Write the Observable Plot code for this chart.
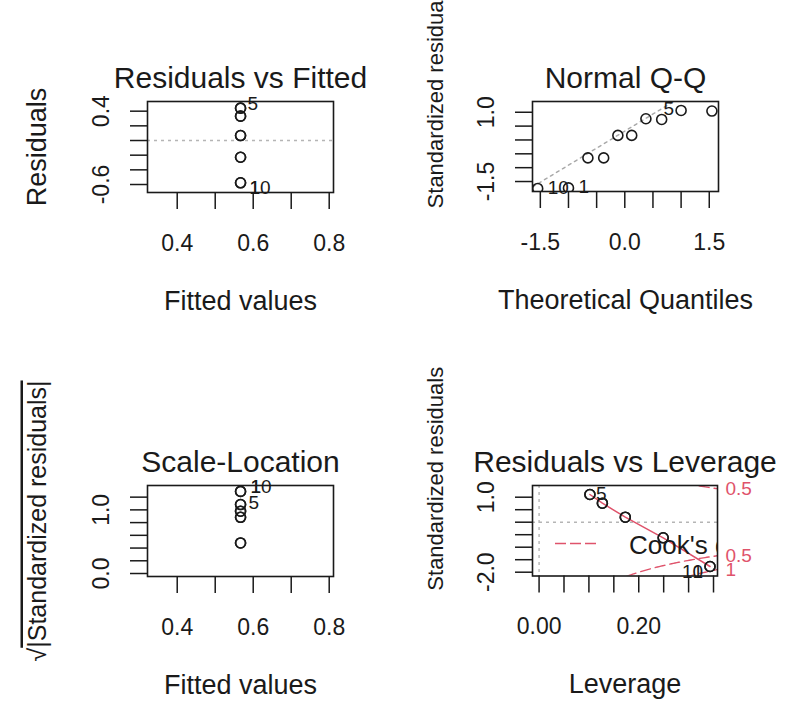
<!DOCTYPE html>
<html>
<head>
<meta charset="utf-8">
<script src="https://cdn.jsdelivr.net/npm/d3@7"></script>
<script src="https://cdn.jsdelivr.net/npm/@observablehq/plot@0.6"></script>
<style>
  html, body { margin: 0; padding: 0; background: #ffffff; }
  #chart { position: relative; width: 794px; height: 704px; overflow: hidden; background: #ffffff; }
  #chart svg { position: absolute; left: 0; top: 0; }
</style>
</head>
<body>
<div id="chart"></div>
<script>
// ---------------- data ----------------
const obsId = [1, 2, 3, 4, 5, 6, 7, 8, 9, 10];
const fittedValues = [0.5667, 0.5667, 0.5667, 0.5667, 0.5667, 0.5667, 0.5667, 0.5667, 0.5667, 0.5667];
const residualValues = [-0.577, -0.228, 0.068, 0.332, 0.441, 0.441, 0.332, 0.068, -0.228, -0.577];

const qqOrderIds = [10, 1, 2, 9, 3, 8, 4, 7, 5, 6];
const theoreticalQuantiles = [-1.547, -1.0, -0.655, -0.375, -0.123, 0.123, 0.375, 0.655, 1.0, 1.547];
const qqStdResiduals = [-1.75, -1.73, -0.647, -0.647, 0.165, 0.165, 0.766, 0.741, 1.065, 1.043];
const qqLineIntercept = 0.32;
const qqLineSlope = 1.23;

const sqrtAbsStdResiduals = [1.29, 0.883, 0.48, 0.978, 1.084, 1.084, 0.978, 0.48, 0.883, 1.29];

const leverageValues = [0.343, 0.249, 0.173, 0.127, 0.102, 0.102, 0.127, 0.173, 0.249, 0.343];
const levStdResiduals = [-1.772, -0.624, 0.2, 0.76, 1.108, 1.108, 0.76, 0.2, -0.624, -1.772];
const cookLevels = [0.5, 1];
const nParams = 2;

// axis ticks and labels
const fittedTicks = [0.4, 0.5, 0.6, 0.7, 0.8];
const fittedTickLabels = ["0.4", "0.6", "0.8"];
const residTicks = [-0.6, -0.4, -0.2, 0, 0.2, 0.4];
const residTickLabels = ["0.4", "-0.6"];
const qqXTicks = [-1.5, -1, -0.5, 0, 0.5, 1, 1.5];
const qqXTickLabels = ["-1.5", "0.0", "1.5"];
const qqYTicks = [-1.5, -1, -0.5, 0, 0.5, 1];
const qqYTickLabels = ["1.0", "-1.5"];
const slYTicks = [0, 0.2, 0.4, 0.6, 0.8, 1.0, 1.2];
const slYTickLabels = ["0.0", "1.0"];
const levXTicks = [0, 0.05, 0.1, 0.15, 0.2, 0.25, 0.3, 0.35];
const levXTickLabels = ["0.00", "0.20"];
const levYTicks = [-2, -1.5, -1, -0.5, 0, 0.5, 1];
const levYTickLabels = ["1.0", "-2.0"];

const panelTitles = ["Residuals vs Fitted", "Normal Q-Q", "Scale-Location", "Residuals vs Leverage"];
const xTitles = ["Fitted values", "Theoretical Quantiles", "Fitted values", "Leverage"];
const SQRT_LABEL = "\u221A|Standardized residuals|";
const yTitles = ["Residuals", "Standardized residuals", SQRT_LABEL, "Standardized residuals"];

// ---------------- styling ----------------
const W = 794, H = 704;
const FONT = "'Liberation Sans', Arial, Helvetica, sans-serif";
const INK = "#1a1a1a";
const RED = "#df536b";
const GREY = "#b5b5b5";
const DOT = {r: 5, stroke: INK, strokeWidth: 1.6, fill: "none"};

const obs = obsId.map((id, i) => ({
  id, fitted: fittedValues[i], resid: residualValues[i],
  sl: sqrtAbsStdResiduals[i], lev: leverageValues[i], lsr: levStdResiduals[i]
}));
const qq = qqOrderIds.map((id, i) => ({id, q: theoreticalQuantiles[i], s: qqStdResiduals[i]}));
const byId = id => obs.find(o => o.id === id);

function num(s) { return +s; }

function panel(cfg) {
  const [L, R, T, B] = cfg.box;
  const plot = Plot.plot({
    width: W, height: H,
    marginLeft: L, marginRight: W - R, marginTop: T, marginBottom: H - B,
    x: {domain: cfg.xDomain, label: null},
    y: {domain: cfg.yDomain, label: null},
    style: {background: "transparent", fontFamily: FONT, overflow: "visible", color: INK},
    marks: [
      ...cfg.marks,
      Plot.frame({stroke: INK, strokeWidth: 1.6}),
      Plot.axisX(cfg.xTicks, {anchor: "bottom", tickSize: 17, stroke: INK, strokeWidth: 1.5, tickFormat: () => "", label: null}),
      Plot.axisY(cfg.yTicks, {anchor: "left", tickSize: 17, stroke: INK, strokeWidth: 1.5, tickFormat: () => "", label: null}),
      Plot.text(cfg.xTickLabels, {x: num, text: d => d, frameAnchor: "bottom", dy: 58, lineAnchor: "bottom", textAnchor: "middle", fontSize: 23, fill: INK}),
      Plot.text(cfg.yTickLabels, {y: num, text: d => d, frameAnchor: "left", dx: -39, rotate: -90, lineAnchor: "bottom", textAnchor: "middle", fontSize: 23, fill: INK}),
      Plot.text([cfg.title], {frameAnchor: "top", dy: -14, lineAnchor: "bottom", textAnchor: "middle", fontSize: 30, fill: INK}),
      Plot.text([cfg.xTitle], {frameAnchor: "bottom", dy: 117, lineAnchor: "bottom", textAnchor: "middle", fontSize: 27, fill: INK}),
      Plot.text([cfg.yTitle], {frameAnchor: "left", dx: cfg.yTitleDx, dy: cfg.yTitleDy, rotate: -90, lineAnchor: "bottom", textAnchor: "middle", fontSize: cfg.yTitleSize, fill: INK})
    ]
  });
  return plot;
}

const idText = {fontSize: 19, fill: INK, lineAnchor: "middle"};

// Panel 1: Residuals vs Fitted
const p1 = panel({
  box: [147, 333, 101, 192],
  xDomain: [0.3218, 0.8113], yDomain: [-0.709, 0.532],
  xTicks: fittedTicks, xTickLabels: fittedTickLabels,
  yTicks: residTicks, yTickLabels: residTickLabels,
  title: panelTitles[0], xTitle: xTitles[0], yTitle: yTitles[0], yTitleDx: -102, yTitleDy: 0, yTitleSize: 27,
  marks: [
    Plot.ruleY([0], {stroke: GREY, strokeWidth: 1.4, strokeDasharray: "3,4", clip: true}),
    Plot.dot(obs, {x: "fitted", y: "resid", ...DOT, clip: true}),
    Plot.text([5].map(byId), {x: "fitted", y: "resid", text: d => String(d.id), dx: 7, dy: -4, textAnchor: "start", ...idText}),
    Plot.text([10, 1].map(byId), {x: "fitted", y: "resid", text: d => String(d.id), dx: 9, dy: 5, textAnchor: "start", ...idText})
  ]
});

// Panel 2: Normal Q-Q
const qqXDomain = [-1.639, 1.664];
const qqLinePts = qqXDomain.map(q => ({q, s: qqLineIntercept + qqLineSlope * q}));
const p2 = panel({
  box: [532, 718, 101, 191],
  xDomain: qqXDomain, yDomain: [-1.86, 1.388],
  xTicks: qqXTicks, xTickLabels: qqXTickLabels,
  yTicks: qqYTicks, yTickLabels: qqYTickLabels,
  title: panelTitles[1], xTitle: xTitles[1], yTitle: yTitles[1], yTitleDx: -90, yTitleDy: -50, yTitleSize: 22,
  marks: [
    Plot.line(qqLinePts, {x: "q", y: "s", stroke: "#a8a8a8", strokeWidth: 1.4, strokeDasharray: "3,4", clip: true}),
    Plot.dot(qq, {x: "q", y: "s", ...DOT, clip: true}),
    Plot.text(qq.filter(d => d.id === 10 || d.id === 1), {x: "q", y: "s", text: d => String(d.id), dx: 10, dy: -1, textAnchor: "start", ...idText}),
    Plot.text(qq.filter(d => d.id === 5), {x: "q", y: "s", text: d => String(d.id), dx: -7, dy: -2, textAnchor: "end", ...idText})
  ]
});

// Panel 3: Scale-Location
const p3 = panel({
  box: [147, 333, 485, 576],
  xDomain: [0.3218, 0.8113], yDomain: [-0.047, 1.383],
  xTicks: fittedTicks, xTickLabels: fittedTickLabels,
  yTicks: slYTicks, yTickLabels: slYTickLabels,
  title: panelTitles[2], xTitle: xTitles[2], yTitle: yTitles[2], yTitleDx: -102, yTitleDy: -10, yTitleSize: 25,
  marks: [
    Plot.dot(obs, {x: "fitted", y: "sl", ...DOT, clip: true}),
    Plot.text([10, 1].map(byId), {x: "fitted", y: "sl", text: d => String(d.id), dx: 10, dy: -5, textAnchor: "start", ...idText}),
    Plot.text([5].map(byId), {x: "fitted", y: "sl", text: d => String(d.id), dx: 8, dy: -2, textAnchor: "start", ...idText})
  ]
});

// Panel 4: Residuals vs Leverage
const levXDomain = [-0.0132, 0.358];
const levYDomain = [-2.152, 1.468];
const hStart = Math.min(d3.min(leverageValues), d3.max(leverageValues) / 100);
const hSteps = d3.range(101).map(i => hStart + (levXDomain[1] - hStart) * i / 100);
const cookCurves = [];
for (const lev of cookLevels) for (const sign of [1, -1])
  for (const h of hSteps) cookCurves.push({key: lev + "_" + sign, h, s: sign * Math.sqrt(lev * nParams * (1 - h) / h)});
const xmax = levXDomain[1];
const cookTickData = [];
for (const lev of cookLevels) for (const sign of [1, -1]) {
  const s = sign * Math.sqrt(lev * nParams * (1 - xmax) / xmax);
  if (s >= levYDomain[0] && s <= levYDomain[1]) cookTickData.push({lev, s});
}
const smoothPts = d3.sort(obs.filter((d, i, a) => a.findIndex(e => e.lev === d.lev) === i), d => d.lev);

const p4 = panel({
  box: [532, 717, 485, 575.5],
  xDomain: levXDomain, yDomain: levYDomain,
  xTicks: levXTicks, xTickLabels: levXTickLabels,
  yTicks: levYTicks, yTickLabels: levYTickLabels,
  title: panelTitles[3], xTitle: xTitles[3], yTitle: yTitles[3], yTitleDx: -90, yTitleDy: -52, yTitleSize: 22,
  marks: [
    Plot.ruleY([0], {stroke: GREY, strokeWidth: 1.4, strokeDasharray: "3,4", clip: true}),
    Plot.ruleX([0], {stroke: GREY, strokeWidth: 1.4, strokeDasharray: "3,4", clip: true}),
    Plot.line(cookCurves, {x: "h", y: "s", z: "key", stroke: RED, strokeWidth: 1.4, strokeDasharray: "10,5", clip: true}),
    Plot.line(smoothPts, {x: "lev", y: "lsr", stroke: RED, strokeWidth: 1.5, clip: true}),
    Plot.dot(obs, {x: "lev", y: "lsr", ...DOT, clip: true}),
    Plot.text([5].map(byId), {x: "lev", y: "lsr", text: d => String(d.id), dx: 6, dy: -1, textAnchor: "start", ...idText}),
    Plot.text([10, 1].map(byId), {x: "lev", y: "lsr", text: d => String(d.id), dx: -7, dy: 5, textAnchor: "end", ...idText}),
    Plot.text(cookTickData, {y: "s", text: d => String(d.lev), frameAnchor: "right", dx: 8, textAnchor: "start", lineAnchor: "middle", fontSize: 19, fill: RED}),
    Plot.text(["Cook's distance"], {frameAnchor: "bottom-left", dx: 96.5, dy: -30.5, textAnchor: "start", lineAnchor: "middle", fontSize: 26, fill: INK, clip: true})
  ]
});

const chart = document.getElementById("chart");
for (const p of [p1, p2, p3, p4]) chart.appendChild(p);

// legend key (dashed red line) for Cook's distance, placed relative to panel 4's frame
d3.select(p4).append("line")
  .attr("x1", 532 + 23).attr("x2", 532 + 65)
  .attr("y1", 575.5 - 32).attr("y2", 575.5 - 32)
  .attr("stroke", RED).attr("stroke-width", 1.5).attr("stroke-dasharray", "11,4");

// sqrt label: overline over the |...| part
d3.select(p3).selectAll("text").filter(function() { return this.textContent === SQRT_LABEL; })
  .each(function() {
    const t = d3.select(this);
    t.text("");
    t.append("tspan").text("\u221A");
    t.append("tspan").style("text-decoration", "overline").text("|Standardized residuals|");
  });
</script>
</body>
</html>
